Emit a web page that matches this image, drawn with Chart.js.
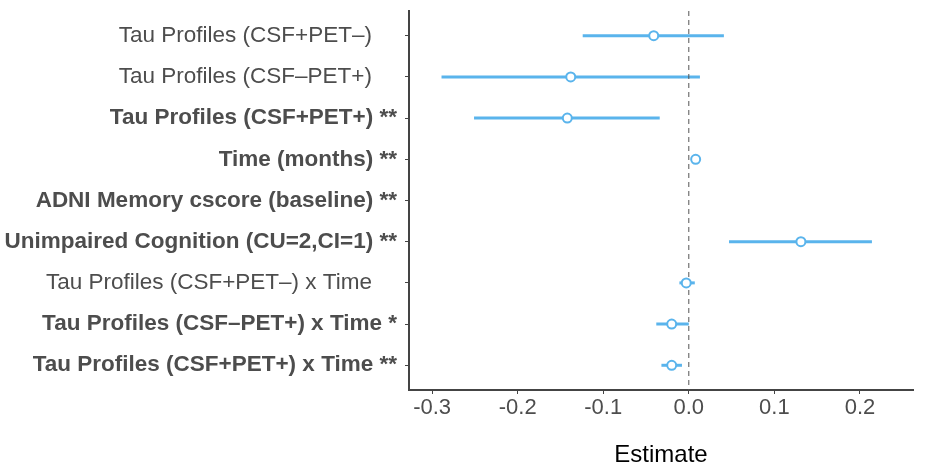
<!DOCTYPE html>
<html>
<head>
<meta charset="utf-8">
<script src="https://cdn.jsdelivr.net/npm/chart.js@4.4.1/dist/chart.umd.min.js"></script>
<style>
  html, body { margin: 0; padding: 0; background: #fff; }
  #wrap { width: 927px; height: 467px; position: relative; }
</style>
</head>
<body>
<div id="wrap"><canvas id="forest"></canvas></div>
<script>
// terms, top to bottom
const terms = [
    'Tau Profiles (CSF+PET–)',
    'Tau Profiles (CSF–PET+)',
    'Tau Profiles (CSF+PET+)',
    'Time (months)',
    'ADNI Memory cscore (baseline)',
    'Unimpaired Cognition (CU=2,CI=1)',
    'Tau Profiles (CSF+PET–) x Time',
    'Tau Profiles (CSF–PET+) x Time',
    'Tau Profiles (CSF+PET+) x Time'
]
const stars = ['', '', '**', '**', '**', '**', '', '*', '**']
// estimates and 95% CI
const estimate = [-0.041, -0.138, -0.142, 0.008, null, 0.131, -0.003, -0.020, -0.020]
const lower    = [-0.124, -0.289, -0.251, 0.006, null, 0.047, -0.011, -0.038, -0.032]
const upper    = [ 0.041,  0.013, -0.034, 0.010, null, 0.214,  0.007,  0.000, -0.008]
const xTicks = [-0.3, -0.2, -0.1, 0.0, 0.1, 0.2]

const blue = '#5ab4ec'
const textGrey = '#4d4d4d'
const fam = '"Liberation Sans", Arial, Helvetica, sans-serif'

const labelText = terms.map((t, i) => stars[i] ? t + ' ' + stars[i] : t + '    ')

// one little line per row for the CI
const ciSets = terms.map((t, i) => ({
    type: 'line',
    data: lower[i] === null ? [] : [{x: lower[i], y: i + 1}, {x: upper[i], y: i + 1}],
    borderColor: blue,
    borderWidth: 3,
    pointRadius: 0,
    showLine: true,
    order: 2
}))

const pointSet = {
    type: 'scatter',
    data: estimate.map((v, i) => ({x: v, y: i + 1})).filter(p => p.x !== null),
    pointRadius: 4.5,
    pointBorderWidth: 2,
    pointBackgroundColor: '#fff',
    pointBorderColor: blue,
    order: 0
}

const zeroLine = {
    type: 'line',
    data: [{x: 0, y: 0.4}, {x: 0, y: terms.length + 0.6}],
    borderColor: '#555',
    borderWidth: 1,
    borderDash: [5, 4],
    pointRadius: 0,
    showLine: true,
    order: 1
}

const ctx = document.getElementById('forest')
new Chart(ctx, {
    type: 'scatter',
    data: { datasets: [pointSet, zeroLine, ...ciSets] },
    options: {
        responsive: true,
        maintainAspectRatio: false,
        animation: false,
        layout: { padding: { top: 11, right: 14, left: 0, bottom: 0 } },
        plugins: {
            legend: { display: false },
            tooltip: { enabled: false }
        },
        scales: {
            x: {
                type: 'linear',
                min: -0.327,
                max: 0.262,
                afterBuildTicks: axis => { axis.ticks = xTicks.map(v => ({value: v})) },
                afterFit: scale => { scale.height = 77 },
                border: { display: true, color: '#444', width: 2 },
                grid: { drawOnChartArea: false, drawTicks: true, tickLength: 4, color: '#444' },
                ticks: {
                    padding: 1,
                    color: textGrey,
                    font: { family: fam, size: 22 },
                    callback: v => v.toFixed(1)
                },
                title: {
                    display: true,
                    text: 'Estimate',
                    color: '#000',
                    font: { family: fam, size: 24, lineHeight: 1 },
                    padding: { top: 0, bottom: 0 }
                }
            },
            y: {
                type: 'linear',
                reverse: true,
                min: 0.4,
                max: terms.length + 0.6,
                afterBuildTicks: axis => { axis.ticks = terms.map((t, i) => ({value: i + 1})) },
                afterFit: scale => {
                    scale.width = 409
                    scale.paddingTop = 0
                    scale.paddingBottom = 0
                },
                border: { display: true, color: '#444', width: 2 },
                grid: { drawOnChartArea: false, drawTicks: true, tickLength: 4, color: '#444' },
                ticks: {
                    padding: 8,
                    color: textGrey,
                    font: (c) => ({
                        family: fam,
                        size: 22.5,
                        weight: c.tick && stars[c.tick.value - 1] ? 'bold' : 'normal'
                    }),
                    callback: v => labelText[v - 1]
                }
            }
        }
    }
})
</script>
</body>
</html>
